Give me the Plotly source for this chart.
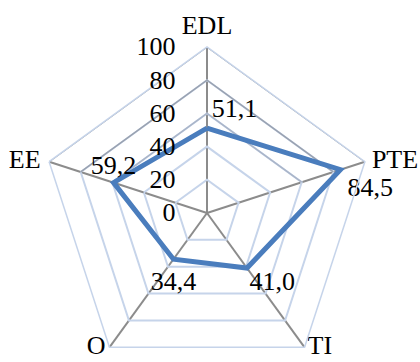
import plotly.graph_objects as go

# Radar chart data
categories = ["EDL", "PTE", "TI", "O", "EE"]
scores = [51.1, 84.5, 41.0, 34.4, 59.2]
tick_values = [0, 20, 40, 60, 80, 100]
tick_labels = ["0", "20", "40", "60", "80", "100"]

FONT = "Liberation Serif"
FS = 26
LINE_BLUE = "#4a7dbd"
GRID_BLUE = "#c6d4ea"
SPOKE_GRAY = "#8c8c8c"
CLEAR = "rgba(0,0,0,0)"


def pad_size(offset_px):
    """Invisible marker size that pushes a text label offset_px away from its point."""
    return max(0.0, 2 * 0.8 * (offset_px - 1))


def text_trace(r, theta, text, position, offset):
    return go.Scatterpolar(
        r=r, theta=theta, text=text, mode="markers+text", textposition=position,
        marker=dict(size=pad_size(offset), color=CLEAR),
        textfont=dict(family=FONT, size=FS, color="black"),
        hoverinfo="skip", showlegend=False, cliponaxis=False,
    )


score_labels = [f"{v:.1f}".replace(".", ",") for v in scores]
score_label_pos = ["top right", "bottom right", "bottom right", "bottom center", "top center"]
score_label_pad = [1, 7, 2.5, 11.5, 2]

cat_label_pos = ["top center", "middle right", "middle right", "middle left", "middle left"]
cat_label_pad = [7, 7, 3, 4, 8.6]

fig = go.Figure()

# Upper grid edges are drawn darker than the lower ones
upper_edge = [categories[-1], categories[0], categories[1]]
upper_colors = {60: "#aab5c8", 80: "#9aa2b0", 100: "#8e8e8e"}
for level, col in upper_colors.items():
    fig.add_trace(go.Scatterpolar(
        r=[level] * len(upper_edge), theta=upper_edge, mode="lines",
        line=dict(color=col, width=1.5), hoverinfo="skip", showlegend=False,
        cliponaxis=False,
    ))

# Data polygon (closed)
fig.add_trace(go.Scatterpolar(
    r=scores + scores[:1], theta=categories + categories[:1],
    mode="lines", line=dict(color=LINE_BLUE, width=5),
    showlegend=False, cliponaxis=False,
))

# Value labels beside each vertex
for val, lab, cat, pos, pad in zip(scores, score_labels, categories, score_label_pos, score_label_pad):
    fig.add_trace(text_trace([val], [cat], [lab], pos, pad))

# Category names at the outer ring
for cat, pos, pad in zip(categories, cat_label_pos, cat_label_pad):
    fig.add_trace(text_trace([tick_values[-1]], [cat], [cat], pos, pad))

W, H = 420, 382
fig.update_layout(
    width=W, height=H,
    margin=dict(l=0, r=0, t=0, b=0),
    paper_bgcolor="white", plot_bgcolor="white",
    font=dict(family=FONT, size=FS, color="black"),
    polar=dict(
        domain=dict(x=[41 / W, 373 / W], y=[(H - 379) / H, (H - 47) / H]),
        bgcolor="white",
        gridshape="linear",
        radialaxis=dict(
            range=[0, 100], tickvals=tick_values, ticktext=tick_labels,
            angle=90, tickangle=90, side="counterclockwise",
            showticklabels=True, ticks="outside", ticklen=22, tickcolor=CLEAR,
            tickfont=dict(family=FONT, size=FS, color="black"),
            showline=False, gridcolor=GRID_BLUE, gridwidth=1.5,
        ),
        angularaxis=dict(
            categoryorder="array", categoryarray=categories,
            rotation=90, direction="clockwise",
            showline=True, linecolor=GRID_BLUE, linewidth=1.5,
            gridcolor=SPOKE_GRAY, gridwidth=1.5, ticks="",
            showticklabels=False,
        ),
    ),
)

fig.write_html(
    "out.html",
    post_script="document.documentElement.style.overflow='hidden';document.body.style.overflow='hidden';",
)
